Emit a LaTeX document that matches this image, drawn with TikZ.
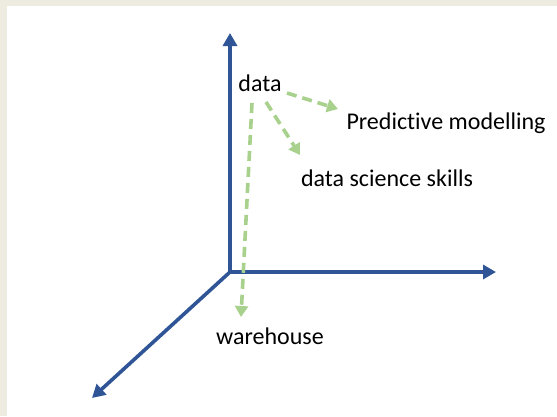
\documentclass[tikz,border=0pt]{standalone}
\usepackage{fontspec}
\setmainfont{Carlito}[Ligatures=NoCommon]
\usetikzlibrary{arrows.meta}
\definecolor{axisblue}{HTML}{2F5597}
\definecolor{leafgreen}{HTML}{A9D18E}
\definecolor{paper}{HTML}{EEEBE0}
\tikzset{
  axis/.style={draw=axisblue, line width=3.6bp, -{Triangle[length=13bp,width=14bp]}},
  link/.style={draw=leafgreen, line width=3.6bp, dash pattern=on 10bp off 6bp,
    -{Triangle[length=11bp,width=13bp]}},
  label/.style={font=\fontsize{24bp}{28bp}\selectfont, text=black, inner sep=0pt, anchor=base}
}
\begin{document}
\begin{tikzpicture}[x=1bp,y=-1bp]
  % canvas and frame
  \fill[paper] (0,0) rectangle (557,416);
  \fill[white] (7,6) rectangle (557,416);
  \useasboundingbox (0,0) rectangle (557,416);

  % axes
  \coordinate (o) at (230,272);
  \coordinate (up) at (230,33);
  \coordinate (right) at (496,272);
  \coordinate (front) at (92,398);
  \draw[axis] (o) -- (up);
  \draw[axis] (o) -- (right);
  \draw[axis] (o) -- (front);

  % labels
  \node[label] (data) at (260,91) {data};
  \node[label] (pm) at (446,129) {Predictive modelling};
  \node[label] (dss) at (387,186) {data science skills};
  \node[label] (wh) at (270,344) {warehouse};

  % links from data
  \coordinate (s1) at (287,93);
  \coordinate (s2) at (266,102);
  \coordinate (s3) at (252,103);
  \coordinate (t1) at (338,109);
  \coordinate (t2) at (300,155);
  \coordinate (t3) at (241,317);
  \draw[link] (s1) -- (t1);
  \draw[link] (s2) -- (t2);
  \draw[link] (s3) -- (t3);
\end{tikzpicture}
\end{document}
